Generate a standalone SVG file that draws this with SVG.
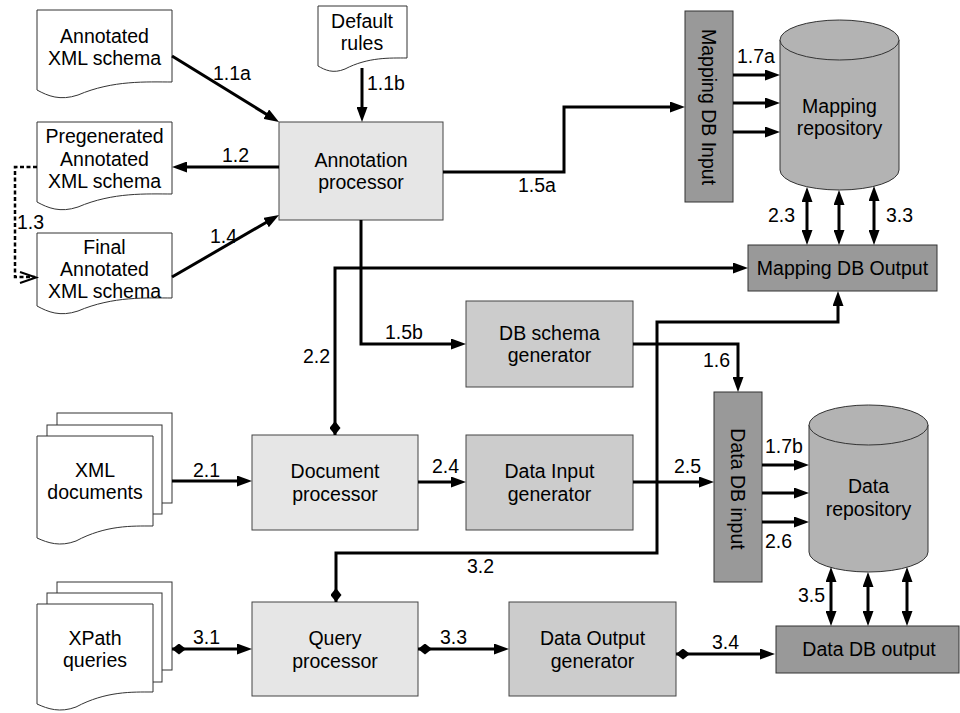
<svg xmlns="http://www.w3.org/2000/svg" width="960" height="713" viewBox="0 0 960 713">
  <style>
    text { font-family: "Liberation Sans", Arial, sans-serif; font-size: 19.5px; fill: #000; }
    .c { text-anchor: middle; }
    .doc { fill: #fff; stroke: #333; stroke-width: 1; }
    .proc { fill: #e6e6e6; stroke: #444; stroke-width: 1; }
    .gen { fill: #cccccc; stroke: #444; stroke-width: 1; }
    .io { fill: #999999; stroke: #333; stroke-width: 1; }
    .repo { fill: #b3b3b3; stroke: #333; stroke-width: 1; }
    .ln { fill: none; stroke: #000; stroke-width: 3; }
    .arr { marker-end: url(#arrow); }
    .bi { marker-start: url(#arrow); marker-end: url(#arrow); }
    .dia { marker-start: url(#diamond); }
    .dash { fill: none; stroke: #000; stroke-width: 2.5; stroke-dasharray: 4 2.5; }
  </style>
  <defs>
    <marker id="arrow" markerUnits="userSpaceOnUse" viewBox="0 0 15 11" refX="5" refY="5.5" markerWidth="15" markerHeight="11" orient="auto-start-reverse">
      <path d="M0,0 L15,5.5 L0,11 z" fill="#000"/>
    </marker>
    <marker id="diamond" markerUnits="userSpaceOnUse" viewBox="0 0 14 11" refX="0" refY="5.5" markerWidth="14" markerHeight="11" orient="auto">
      <path d="M0,5.5 L7,0 L14,5.5 L7,11 z" fill="#000"/>
    </marker>
  </defs>

  <!-- document shapes -->
  <g id="annotated-schema">
    <path class="doc" d="M37,10 H172 V82 C147,82 113,80 78,95 C60,101 48,96 37,90 Z"/>
    <text class="c" x="104.5" y="43">Annotated</text>
    <text class="c" x="104.5" y="65">XML schema</text>
  </g>
  <g id="default-rules">
    <path class="doc" d="M318,6 H407 V58 C390,58 368,57 345,69 C333,74 325,70 318,66 Z"/>
    <text class="c" x="362" y="28">Default</text>
    <text class="c" x="362" y="50">rules</text>
  </g>
  <g id="pregenerated-schema">
    <path class="doc" d="M37,122 H172 V194 C147,194 113,192 78,207 C60,213 48,208 37,202 Z"/>
    <text class="c" x="104.5" y="143">Pregenerated</text>
    <text class="c" x="104.5" y="166">Annotated</text>
    <text class="c" x="104.5" y="188">XML schema</text>
  </g>
  <g id="final-schema">
    <path class="doc" d="M37,233 H172 V298 C147,298 113,296 78,311 C60,317 48,312 37,306 Z"/>
    <text class="c" x="104.5" y="254">Final</text>
    <text class="c" x="104.5" y="276">Annotated</text>
    <text class="c" x="104.5" y="298">XML schema</text>
  </g>
  <g id="xml-documents">
    <rect class="doc" x="57" y="413" width="115" height="90"/>
    <rect class="doc" x="47" y="425" width="115" height="89"/>
    <path class="doc" d="M37,436 H153 V526 C132,526 106,525 76,541 C60,547 48,543 37,538 Z"/>
    <text class="c" x="95" y="477">XML</text>
    <text class="c" x="95" y="499">documents</text>
  </g>
  <g id="xpath-queries">
    <rect class="doc" x="57" y="582" width="115" height="88"/>
    <rect class="doc" x="47" y="593" width="115" height="89"/>
    <path class="doc" d="M37,604 H153 V692 C132,692 106,691 76,707 C60,713 48,709 37,704 Z"/>
    <text class="c" x="95" y="645">XPath</text>
    <text class="c" x="95" y="667">queries</text>
  </g>

  <!-- processors and generators -->
  <g id="annotation-processor">
    <rect class="proc" x="279" y="122" width="164" height="98"/>
    <text class="c" x="361" y="167">Annotation</text>
    <text class="c" x="361" y="189">processor</text>
  </g>
  <g id="db-schema-generator">
    <rect class="gen" x="466" y="301" width="167" height="86"/>
    <text class="c" x="549.5" y="340">DB schema</text>
    <text class="c" x="549.5" y="362">generator</text>
  </g>
  <g id="document-processor">
    <rect class="proc" x="252" y="435" width="166" height="95"/>
    <text class="c" x="335" y="478">Document</text>
    <text class="c" x="335" y="501">processor</text>
  </g>
  <g id="data-input-generator">
    <rect class="gen" x="466" y="435" width="167" height="95"/>
    <text class="c" x="549.5" y="478">Data Input</text>
    <text class="c" x="549.5" y="501">generator</text>
  </g>
  <g id="query-processor">
    <rect class="proc" x="252" y="602" width="166" height="94"/>
    <text class="c" x="335" y="645">Query</text>
    <text class="c" x="335" y="668">processor</text>
  </g>
  <g id="data-output-generator">
    <rect class="gen" x="509" y="602" width="167" height="94"/>
    <text class="c" x="592.5" y="645">Data Output</text>
    <text class="c" x="592.5" y="668">generator</text>
  </g>

  <!-- database input / output stages -->
  <g id="mapping-db-input">
    <rect class="io" x="685" y="11" width="48" height="191"/>
    <text class="c" transform="translate(709,107) rotate(90)" y="7">Mapping DB Input</text>
  </g>
  <g id="mapping-db-output">
    <rect class="io" x="748" y="245" width="189" height="46"/>
    <text class="c" x="842.5" y="275">Mapping DB Output</text>
  </g>
  <g id="data-db-input">
    <rect class="io" x="714" y="392" width="48" height="190"/>
    <text class="c" transform="translate(738,489) rotate(90)" y="7">Data DB input</text>
  </g>
  <g id="data-db-output">
    <rect class="io" x="776" y="626" width="183" height="47"/>
    <text class="c" x="869" y="656">Data DB output</text>
  </g>

  <!-- repositories -->
  <g id="mapping-repository">
    <path class="repo" d="M780,40 A59.5,20 0 0 1 899,40 V170 A59.5,20 0 0 1 780,170 Z"/>
    <path class="repo" d="M780,40 A59.5,20 0 0 0 899,40" fill="none"/>
    <text class="c" x="839.5" y="113">Mapping</text>
    <text class="c" x="839.5" y="135">repository</text>
  </g>
  <g id="data-repository">
    <path class="repo" d="M809,425 A59.5,20 0 0 1 928,425 V552 A59.5,20 0 0 1 809,552 Z"/>
    <path class="repo" d="M809,425 A59.5,20 0 0 0 928,425" fill="none"/>
    <text class="c" x="868.5" y="493">Data</text>
    <text class="c" x="868.5" y="516">repository</text>
  </g>

  <!-- connectors -->
  <g id="connectors">
    <path class="ln arr" d="M172,56 L270.5,116.8"/>
    <path class="ln arr" d="M362,68 L362,112"/>
    <path class="ln arr" d="M279,167 L182,167"/>
    <path class="dash" d="M37,167 L15,167 L15,277 L35,277"/>
    <polyline points="20,272 36,277.5 20,283" fill="none" stroke="#000" stroke-width="2"/>
    <path class="ln arr" d="M172,277 L270.4,220"/>
    <path class="ln arr" d="M443,172 L564,172 L564,107 L675,107"/>
    <path class="ln arr" d="M361,220 L361,344 L456,344"/>
    <path class="ln arr" d="M633,344 L738,344 L738,382"/>
    <path class="ln arr" d="M733,75 L770,75"/>
    <path class="ln arr" d="M733,103 L770,103"/>
    <path class="ln arr" d="M733,132 L770,132"/>
    <path class="ln arr" d="M762,465 L799,465"/>
    <path class="ln arr" d="M762,493 L799,493"/>
    <path class="ln arr" d="M762,522 L799,522"/>
    <path class="ln arr" d="M172,481 L242,481"/>
    <path class="ln arr dia" d="M335,435 L335,268 L738,268"/>
    <path class="ln bi" d="M807,197 L807,235"/>
    <path class="ln bi" d="M839,200 L839,235"/>
    <path class="ln bi" d="M874,196 L874,235"/>
    <path class="ln arr" d="M418,482 L456,482"/>
    <path class="ln arr" d="M633,482 L704,482"/>
    <path class="ln arr dia" d="M172,649 L242,649"/>
    <path class="ln arr dia" d="M336,602 L336,553 L657,553 L657,322 L838,322 L838,301"/>
    <path class="ln arr dia" d="M418,649 L499,649"/>
    <path class="ln arr dia" d="M676,654 L765,654"/>
    <path class="ln bi" d="M831,577 L831,616"/>
    <path class="ln bi" d="M868,582 L868,616"/>
    <path class="ln bi" d="M907,577 L907,616"/>
  </g>

  <!-- connector labels -->
  <g id="labels">
    <text x="213" y="80">1.1a</text>
    <text x="367" y="90">1.1b</text>
    <text x="222" y="162">1.2</text>
    <text x="17" y="229">1.3</text>
    <text x="210" y="243">1.4</text>
    <text x="518" y="192">1.5a</text>
    <text x="385" y="339">1.5b</text>
    <text x="703" y="367">1.6</text>
    <text x="737" y="63">1.7a</text>
    <text x="765" y="453">1.7b</text>
    <text x="193" y="477">2.1</text>
    <text x="303" y="363">2.2</text>
    <text x="768" y="222">2.3</text>
    <text x="432" y="473">2.4</text>
    <text x="674" y="473">2.5</text>
    <text x="765" y="548">2.6</text>
    <text x="193" y="644">3.1</text>
    <text x="467" y="573">3.2</text>
    <text x="440" y="644">3.3</text>
    <text x="886" y="222">3.3</text>
    <text x="712" y="649">3.4</text>
    <text x="798" y="602">3.5</text>
  </g>
</svg>
